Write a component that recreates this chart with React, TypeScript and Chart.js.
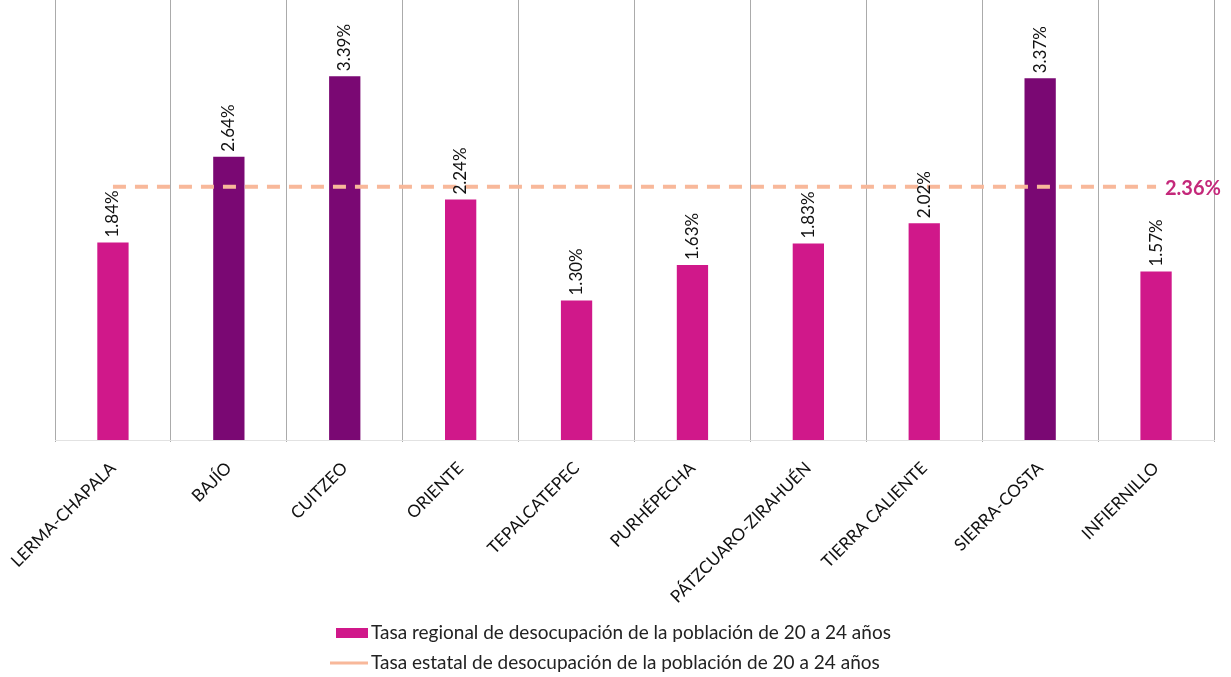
import React, { useEffect, useRef } from "react";
import { Chart, registerables } from "chart.js";

Chart.register(...registerables);

const categories = [
  "LERMA-CHAPALA",
  "BAJÍO",
  "CUITZEO",
  "ORIENTE",
  "TEPALCATEPEC",
  "PURHÉPECHA",
  "PÁTZCUARO-ZIRAHUÉN",
  "TIERRA CALIENTE",
  "SIERRA-COSTA",
  "INFIERNILLO",
];
const regionalRates = [1.84, 2.64, 3.39, 2.24, 1.3, 1.63, 1.83, 2.02, 3.37, 1.57];
const stateRate = 2.36;
const highlighted = ["BAJÍO", "CUITZEO", "SIERRA-COSTA"];
const legendLabels = [
  "Tasa regional de desocupación de la población de 20 a 24 años",
  "Tasa estatal de desocupación de la población de 20 a 24 años",
];

const MAGENTA = "#D0188A";
const PURPLE = "#7A0873";
const PEACH = "#F8B89A";
const FONT = "Lato, 'Open Sans', sans-serif";

export default function App() {
  const ref = useRef<HTMLCanvasElement | null>(null);

  useEffect(() => {
    if (!ref.current) return;
    const labelsPlugin = {
      id: "customLabels",
      afterDatasetsDraw(chart: any) {
        const ctx = chart.ctx;
        const meta = chart.getDatasetMeta(0);
        ctx.save();
        ctx.font = `17px ${FONT}`;
        ctx.fillStyle = "#111";
        ctx.textAlign = "left";
        ctx.textBaseline = "middle";
        meta.data.forEach((bar: any, i: number) => {
          const v = regionalRates[i];
          ctx.save();
          ctx.translate(bar.x, bar.y - 5);
          ctx.rotate(-Math.PI / 2);
          ctx.fillText(v.toFixed(2) + "%", 0, 0);
          ctx.restore();
        });
        // state label
        const lineMeta = chart.getDatasetMeta(1);
        const last = lineMeta.data[lineMeta.data.length - 1];
        ctx.font = `bold 20px ${FONT}`;
        ctx.fillStyle = "#C4287A";
        ctx.textAlign = "left";
        ctx.fillText(stateRate.toFixed(2) + "%", 1165, last.y + 2);
        // legend
        ctx.font = `19px ${FONT}`;
        ctx.textBaseline = "middle";
        const lx = 371;
        const y1 = 633;
        const y2 = 663;
        ctx.fillStyle = MAGENTA;
        ctx.fillRect(336, y1 - 5, 32, 10);
        ctx.strokeStyle = PEACH;
        ctx.lineWidth = 3;
        ctx.beginPath();
        ctx.moveTo(330, y2);
        ctx.lineTo(368, y2);
        ctx.stroke();
        ctx.fillStyle = "#222";
        ctx.fillText(legendLabels[0], lx, y1);
        ctx.fillText(legendLabels[1], lx, y2);
        ctx.restore();
      },
    };

    const chart = new Chart(ref.current, {
      type: "bar",
      data: {
        labels: categories,
        datasets: [
          {
            type: "bar",
            label: legendLabels[0],
            data: regionalRates,
            backgroundColor: categories.map((c) =>
              highlighted.includes(c) ? PURPLE : MAGENTA
            ),
            barPercentage: 0.27,
            categoryPercentage: 1,
            order: 2,
          },
          {
            type: "line",
            label: legendLabels[1],
            data: categories.map(() => stateRate),
            borderColor: PEACH,
            borderWidth: 4,
            borderDash: [13, 9],
            pointRadius: 0,
            fill: false,
            order: 1,
          } as any,
        ],
      },
      options: {
        animation: false,
        responsive: false,
        maintainAspectRatio: false,
        layout: { padding: { left: 55, right: 17, top: 0, bottom: 0 } },
        plugins: {
          legend: { display: false },
          tooltip: { enabled: false },
        },
        scales: {
          x: {
            offset: true,
            grid: {
              display: true,
              offset: true,
              color: "#ababab",
              lineWidth: 1,
              drawTicks: true,
              tickLength: 2,
            },
            border: { display: true, color: "#e2e2e2" },
            ticks: {
              minRotation: 45,
              maxRotation: 45,
              autoSkip: false,
              padding: 16,
              color: "#111",
              font: { family: FONT, size: 17 },
            },
            afterFit: (scale: any) => {
              scale.height = 237;
              scale.paddingLeft = 0;
              scale.paddingRight = 0;
            },
          },
          y: {
            display: false,
            min: 0,
            max: 4.1,
          },
        },
      },
      plugins: [labelsPlugin],
    });
    return () => chart.destroy();
  }, []);

  return (
    <div style={{ position: "absolute", left: 0, top: 0, width: 1231, height: 677, background: "#fff" }}>
      <canvas ref={ref} width={1231} height={677} style={{ display: "block" }} />
    </div>
  );
}
